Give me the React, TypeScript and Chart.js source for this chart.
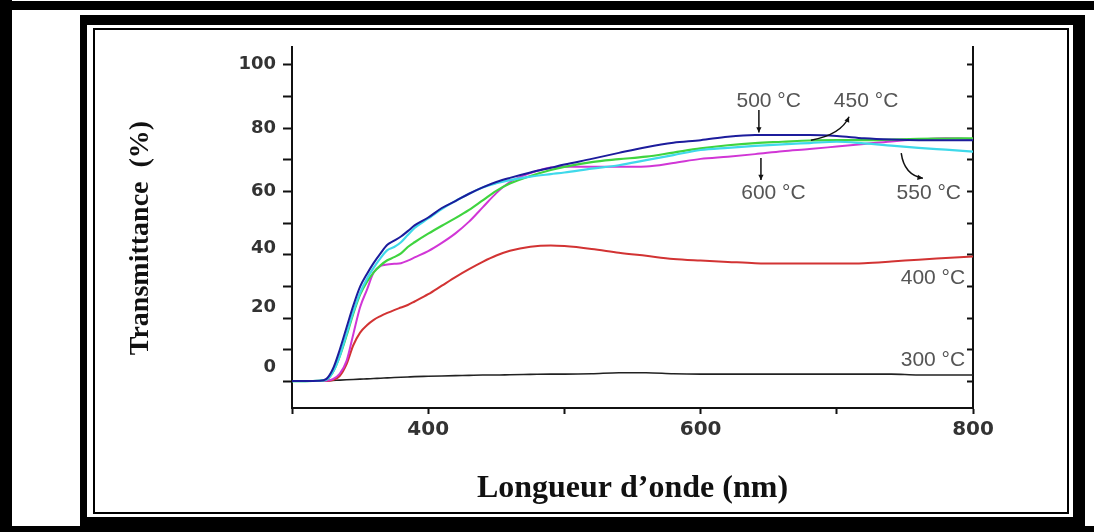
import React, { useEffect, useRef } from 'react';
import { Chart, registerables } from 'chart.js';

Chart.register(...registerables);

// ---- Data ----
const wavelengths = [300, 310, 320, 325, 330, 335, 340, 345, 350, 355, 360, 365, 370, 375, 380, 385, 390, 400, 410, 420, 430, 440, 450, 460, 475, 490, 500, 520, 540, 560, 580, 600, 620, 640, 660, 680, 700, 720, 740, 760, 780, 800];

const t500 = [0.2, 0.2, 0.3, 0.8, 4, 10, 17, 24, 30, 34, 37.5, 40.5, 43.2, 44.5, 45.8, 47.5, 49.3, 51.8, 54.8, 57, 59.3, 61.3, 63, 64.3, 66, 67.5, 68.5, 70.3, 72.2, 74, 75.4, 76.2, 77.3, 77.8, 77.8, 77.8, 77.5, 76.8, 76.4, 76.2, 76.2, 76.2];
const t550 = [0.2, 0.2, 0.3, 0.6, 3, 8, 15, 22, 28, 32.5, 36, 39, 41.5, 42.5, 44, 46.3, 48.5, 51.5, 54.5, 57, 59.3, 61.3, 62.6, 63.6, 64.7, 65.5, 66, 67.2, 68.3, 69.9, 71.5, 73.1, 73.8, 74.4, 74.9, 75.3, 75.7, 75.2, 74.5, 73.8, 73.2, 72.6];
const t450 = [0.2, 0.2, 0.3, 0.6, 3, 8, 14.5, 21.5, 27.5, 31.5, 34.5, 36.7, 38.3, 39.3, 40.5, 42.5, 44, 46.7, 49.2, 51.6, 54.2, 57.2, 60.2, 62.5, 64.9, 66.8, 67.8, 69.3, 70.2, 71, 72.3, 73.6, 74.6, 75.3, 75.7, 76.1, 76.2, 76.2, 76.4, 76.6, 76.7, 76.8];
const t600 = [0.2, 0.2, 0.2, 0.3, 0.8, 2.5, 6.5, 15, 23.5, 29, 34.5, 36.5, 37, 37.2, 37.4, 38.2, 39.2, 41.2, 43.8, 46.8, 50.5, 55, 59.5, 63, 65.8, 67.6, 67.8, 67.8, 67.8, 67.9, 69, 70.3, 71, 71.8, 72.7, 73.4, 74.2, 75, 75.8, 76.4, 76.8, 76.6];
const t400 = [0.2, 0.2, 0.2, 0.2, 0.5, 1.8, 5.5, 11.5, 15.5, 17.8, 19.5, 20.7, 21.7, 22.6, 23.4, 24.2, 25.3, 27.6, 30.3, 33, 35.5, 37.8, 39.8, 41.3, 42.6, 43, 42.8, 41.9, 40.7, 39.7, 38.7, 38.2, 37.8, 37.4, 37.3, 37.3, 37.3, 37.4, 37.9, 38.5, 39, 39.5];
const t300 = [0.2, 0.2, 0.2, 0.3, 0.4, 0.5, 0.6, 0.7, 0.8, 0.9, 1.0, 1.1, 1.2, 1.3, 1.4, 1.5, 1.6, 1.7, 1.8, 1.9, 2.0, 2.1, 2.1, 2.2, 2.3, 2.4, 2.4, 2.5, 2.8, 2.8, 2.5, 2.4, 2.4, 2.4, 2.4, 2.4, 2.4, 2.4, 2.4, 2.1, 2.1, 2.1];

const xTickLabels = [400, 600, 800];
const yTickLabels = [0, 20, 40, 60, 80, 100];

// Curve labels (data coordinates)
const curveLabels = [
  { text: '500 °C', x: 650, y: 88.4 },
  { text: '450 °C', x: 721.5, y: 88.4 },
  { text: '600 °C', x: 653.5, y: 59.4 },
  { text: '550 °C', x: 767.5, y: 59.4 },
  { text: '400 °C', x: 770.6, y: 32.6 },
  { text: '300 °C', x: 770.6, y: 6.8 },
];

// Pointer arrows (data coordinates): start, control, end (head at end)
const pointerArrows = [
  { x1: 642.8, y1: 85.7, cx: 642.8, cy: 82, x2: 642.8, y2: 78.6 },
  { x1: 644.3, y1: 70.6, cx: 644.3, cy: 67, x2: 644.3, y2: 63.6 },
  { x1: 681, y1: 76.2, cx: 703, cy: 77.9, x2: 709, y2: 83.6 },
  { x1: 747.3, y1: 72.1, cx: 749.5, cy: 65.2, x2: 763.2, y2: 64.2 },
];

const series = [
  { label: '500 °C', values: t500, color: '#1c1c9c', width: 2 },
  { label: '550 °C', values: t550, color: '#3fd9ea', width: 2.2 },
  { label: '450 °C', values: t450, color: '#3fd43f', width: 2.2 },
  { label: '600 °C', values: t600, color: '#d136d6', width: 2 },
  { label: '400 °C', values: t400, color: '#d23333', width: 2 },
  { label: '300 °C', values: t300, color: '#222222', width: 1.6 },
];

// style: how far (px) some y tick labels sit above their tick in the original figure
const yLabelRaise: Record<number, number> = { 0: 14, 20: 11, 40: 7 };

const annotationPlugin = {
  id: 'curveAnnotations',
  afterDatasetsDraw(chart: any) {
    const { ctx, scales } = chart;
    const xs = scales.x;
    const ys = scales.y;
    ctx.save();
    ctx.font = '21px "Liberation Sans", Arial, sans-serif';
    ctx.fillStyle = '#555555';
    ctx.textAlign = 'center';
    ctx.textBaseline = 'middle';
    for (const l of curveLabels) {
      ctx.fillText(l.text, xs.getPixelForValue(l.x), ys.getPixelForValue(l.y));
    }
    ctx.strokeStyle = '#111111';
    ctx.fillStyle = '#111111';
    ctx.lineWidth = 1.5;
    for (const a of pointerArrows) {
      const x1 = xs.getPixelForValue(a.x1), y1 = ys.getPixelForValue(a.y1);
      const cx = xs.getPixelForValue(a.cx), cy = ys.getPixelForValue(a.cy);
      const x2 = xs.getPixelForValue(a.x2), y2 = ys.getPixelForValue(a.y2);
      ctx.beginPath();
      ctx.moveTo(x1, y1);
      ctx.quadraticCurveTo(cx, cy, x2, y2);
      ctx.stroke();
      const ang = Math.atan2(y2 - cy, x2 - cx);
      const h = 6;
      ctx.beginPath();
      ctx.moveTo(x2, y2);
      ctx.lineTo(x2 - h * Math.cos(ang - 0.45), y2 - h * Math.sin(ang - 0.45));
      ctx.lineTo(x2 - h * Math.cos(ang + 0.45), y2 - h * Math.sin(ang + 0.45));
      ctx.closePath();
      ctx.fill();
    }
    ctx.restore();
  },
};

export default function App() {
  const canvasRef = useRef<HTMLCanvasElement | null>(null);

  useEffect(() => {
    if (!canvasRef.current) return;
    const chart = new Chart(canvasRef.current, {
      type: 'line',
      data: {
        datasets: series.map((s) => ({
          label: s.label,
          data: wavelengths.map((w, i) => ({ x: w, y: s.values[i] })),
          borderColor: s.color,
          backgroundColor: s.color,
          borderWidth: s.width,
          pointRadius: 0,
          fill: false,
          cubicInterpolationMode: 'monotone' as const,
          yAxisID: 'y',
        })),
      },
      options: {
        responsive: false,
        animation: false,
        devicePixelRatio: 1,
        layout: { padding: { left: 0, top: 47, right: 0, bottom: 0 } },
        plugins: {
          legend: { display: false },
          tooltip: { enabled: false },
        },
        scales: {
          x: {
            type: 'linear',
            position: 'bottom',
            min: 300,
            max: 800,
            afterFit: (s: any) => { s.height = 124; },
            ticks: {
              stepSize: 100,
              autoSkip: false,
              maxRotation: 0,
              padding: 4,
              color: '#333333',
              font: { family: '"DejaVu Sans", sans-serif', size: 20, weight: 'bold' },
              callback: (v: any) => (xTickLabels.includes(Number(v)) ? String(v) : ''),
            },
            grid: { display: true, drawOnChartArea: false, tickLength: 6, tickColor: '#111111', tickWidth: 2 },
            border: { display: true, color: '#111111', width: 2 },
            title: {
              display: true,
              text: 'Longueur d’onde (nm)',
              color: '#111111',
              font: { family: '"Liberation Serif", "Times New Roman", serif', size: 32, weight: 'bold' },
              padding: { top: 0, bottom: 24 },
            },
          },
          y: {
            type: 'linear',
            position: 'left',
            min: -8.3,
            max: 105.6,
            afterFit: (s: any) => { s.width = 292; },
            ticks: {
              stepSize: 10,
              includeBounds: false,
              autoSkip: false,
              padding: 7,
              color: '#333333',
              font: (c: any) => {
                const v = c.tick ? Number(c.tick.value) : NaN;
                const raise = yLabelRaise[v] || 0;
                return {
                  family: '"DejaVu Sans", sans-serif',
                  size: 18,
                  weight: 'bold',
                  lineHeight: raise ? `${raise * 2}px` : 1.2,
                };
              },
              callback: (v: any) => {
                const n = Number(v);
                if (!yTickLabels.includes(n)) return '';
                return yLabelRaise[n] ? [String(n), ''] : String(n);
              },
            },
            grid: { display: true, drawOnChartArea: false, tickLength: 9, tickColor: '#111111', tickWidth: 2 },
            border: { display: true, color: '#111111', width: 2 },
            title: {
              display: true,
              text: 'Transmittance  (%)   ',
              color: '#111111',
              font: { family: '"Liberation Serif", "Times New Roman", serif', size: 28, weight: 'bold' },
              padding: { top: 124, bottom: 0 },
            },
          },
          y2: {
            type: 'linear',
            position: 'right',
            min: -8.3,
            max: 105.6,
            afterFit: (s: any) => { s.width = 121; },
            ticks: { stepSize: 10, includeBounds: false, display: false },
            grid: { display: true, drawOnChartArea: false, tickLength: -6, tickColor: '#111111', tickWidth: 2 },
            border: { display: true, color: '#111111', width: 2 },
          },
        },
      },
      plugins: [annotationPlugin],
    });
    return () => chart.destroy();
  }, []);

  const abs = (s: React.CSSProperties): React.CSSProperties => ({ position: 'absolute', ...s });

  return (
    <div style={{ position: 'fixed', left: 0, top: 0, width: 1094, height: 532, background: '#ffffff', overflow: 'hidden' }}>
      {/* outer black bands */}
      <div style={abs({ left: 0, top: 1, width: 1094, height: 9, background: '#000' })} />
      <div style={abs({ left: 0, top: 0, width: 12, height: 532, background: '#000' })} />
      <div style={abs({ left: 0, top: 526, width: 1094, height: 6, background: '#000' })} />
      {/* inner framed panel */}
      <div style={abs({ left: 80, top: 15, width: 1005, height: 517, background: '#000' })} />
      <div style={abs({ left: 87, top: 25, width: 986, height: 492, background: '#ffffff' })} />
      <div style={abs({ left: 93, top: 28, width: 976, height: 486, boxSizing: 'border-box', border: '2.5px solid #000', background: '#ffffff' })} />
      <canvas ref={canvasRef} width={1094} height={532} style={abs({ left: 0, top: 0, width: 1094, height: 532 })} />
    </div>
  );
}
